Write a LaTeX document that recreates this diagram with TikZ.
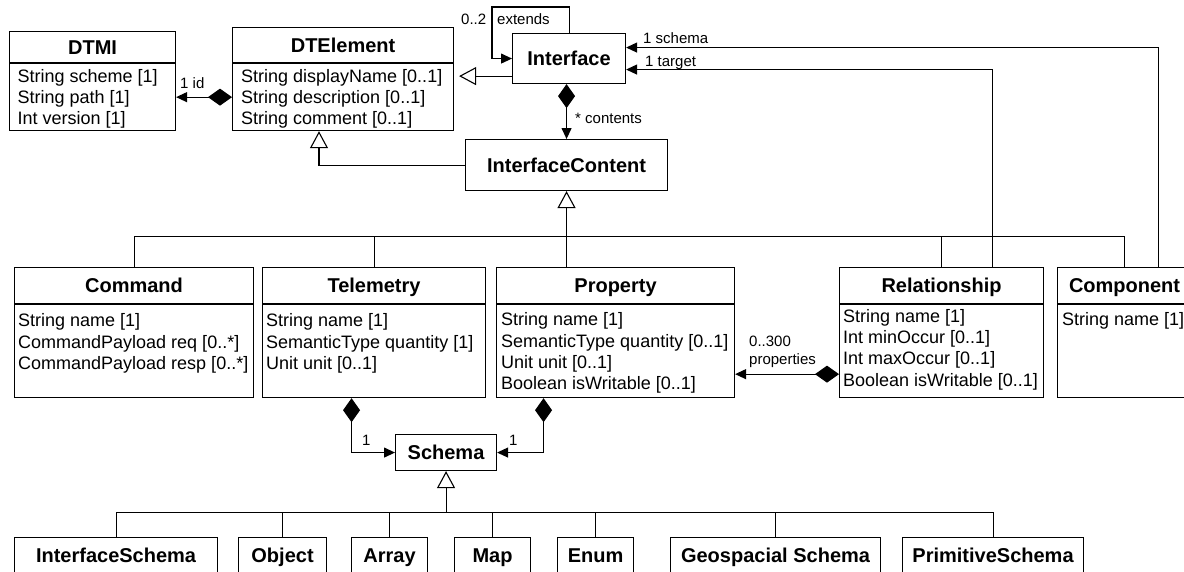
\documentclass[tikz,border=0pt]{standalone}
\usepackage{fontspec}
\setmainfont{Liberation Sans}
\usetikzlibrary{arrows.meta}
\tikzset{
  ln/.style={line width=1.1pt, line cap=rect},
  hdr/.style={draw, line width=1.1pt, inner sep=0pt, font=\fontsize{20}{24}\selectfont\bfseries, text height=14.3pt, text depth=0pt, anchor=north west},
  body/.style={draw, line width=1.1pt, inner sep=0pt, anchor=north west},
  attr/.style={inner sep=0pt, anchor=north west, align=left, font=\fontsize{18}{21.3}\selectfont},
  lbl/.style={inner sep=0pt, anchor=base west, font=\fontsize{15}{18}\selectfont},
  gen/.style={line width=1.1pt, -{Triangle[open,length=17pt,width=18pt,fill=white]}},
  comp/.style={line width=1.1pt, {Diamond[length=24pt,width=17pt]}-{Triangle[length=11pt,width=10pt]}},
  arr/.style={line width=1.1pt, -{Triangle[length=11pt,width=10pt]}},
}
\begin{document}
\begin{tikzpicture}[x=1pt,y=-1pt]
\useasboundingbox (0,0) rectangle (1184,571);
\clip (0,0) rectangle (1184,571);
\fill[white] (0,0) rectangle (1184,571);
% DTMI
\node[hdr, minimum width=166pt, minimum height=31pt] (dtmiH) at (9,31) {DTMI};
\node[body, minimum width=166pt, minimum height=67pt] (dtmiB) at (dtmiH.south west) {};
\node[attr] (dtmiT) at (17.5,69) {String scheme [1]\\String path [1]\\Int version [1]};
% DTElement
\node[hdr, minimum width=221pt, minimum height=35pt] (dteH) at (232,27) {DTElement};
\node[body, minimum width=221pt, minimum height=67pt] (dteB) at (dteH.south west) {};
\node[attr] (dteT) at (241,69) {String displayName [0..1]\\String description [0..1]\\String comment [0..1]};
% Interface
\node[hdr, minimum width=113pt, minimum height=50pt] (ifc) at (512,33) {Interface};
% InterfaceContent
\node[hdr, minimum width=202pt, minimum height=51pt] (ic) at (465,139) {InterfaceContent};
% Command
\node[hdr, minimum width=239pt, minimum height=36pt] (cmdH) at (14,267) {Command};
\node[body, minimum width=239pt, minimum height=93pt] (cmdB) at (cmdH.south west) {};
\node[attr] (cmdT) at (18,313.5) {String name [1]\\CommandPayload req [0..*]\\CommandPayload resp [0..*]};
% Telemetry
\node[hdr, minimum width=223pt, minimum height=36pt] (telH) at (262,267) {Telemetry};
\node[body, minimum width=223pt, minimum height=93pt] (telB) at (telH.south west) {};
\node[attr] (telT) at (266,313.5) {String name [1]\\SemanticType quantity [1]\\Unit unit [0..1]};
% Property
\node[hdr, minimum width=238pt, minimum height=36pt] (propH) at (496,267) {Property};
\node[body, minimum width=238pt, minimum height=93pt] (propB) at (propH.south west) {};
\node[attr] (propT) at (501,312.5) {String name [1]\\SemanticType quantity [0..1]\\Unit unit [0..1]\\Boolean isWritable [0..1]};
% Relationship
\node[hdr, minimum width=204pt, minimum height=36pt] (relH) at (839,267) {Relationship};
\node[body, minimum width=204pt, minimum height=93pt] (relB) at (relH.south west) {};
\node[attr] (relT) at (843,309) {String name [1]\\Int minOccur [0..1]\\Int maxOccur [0..1]\\Boolean isWritable [0..1]};
% Component
\node[hdr, minimum width=134pt, minimum height=36pt] (compH) at (1057,267) {Component};
\node[body, minimum width=134pt, minimum height=93pt] (compB) at (compH.south west) {};
\node[attr] (compT) at (1062,312.5) {String name [1]};
% Schema
\node[hdr, minimum width=101pt, minimum height=36pt] (schema) at (395,434) {Schema};
% bottom row
\node[hdr, minimum width=203pt, minimum height=36pt] (isH) at (14,537) {InterfaceSchema};
\node[hdr, minimum width=88pt, minimum height=36pt] (objH) at (238,537) {Object};
\node[hdr, minimum width=76pt, minimum height=36pt] (arrH) at (351,537) {Array};
\node[hdr, minimum width=76pt, minimum height=36pt] (mapH) at (454,537) {Map};
\node[hdr, minimum width=76pt, minimum height=36pt] (enumH) at (557,537) {Enum};
\node[hdr, minimum width=210pt, minimum height=36pt] (geoH) at (670,537) {Geospacial Schema};
\node[hdr, minimum width=181pt, minimum height=36pt] (primH) at (902,537) {PrimitiveSchema};

% DTElement -> DTMI
\draw[comp] (dteB.west) -- (dteB.west -| dtmiB.east);
\node[lbl] (lid) at (180,88) {1 id};
% Interface -> DTElement
\coordinate (g1) at ([yshift=8pt]ifc.south west);
\draw[gen, shorten >=5pt] (g1) -- (g1 -| dteB.east);
% extends loop
\draw[arr] (ifc.north) -- ++(0,-26) -| ([xshift=-20pt]ifc.west) -- (ifc.west);
\node[lbl] (l02) at (461,24) {0..2};
\node[lbl] (lext) at (497,24) {extends};
% schema / target
\coordinate (s1) at ([yshift=11pt]ifc.east);
\coordinate (s2) at ([yshift=-11pt]ifc.east);
\draw[arr] ([xshift=34pt]compH.north) |- (s1);
\draw[arr] ([xshift=51pt]relH.north) |- (s2);
\node[lbl] (lsch) at (643,43) {1 schema};
\node[lbl] (ltgt) at (645,66) {1 target};
% contents
\draw[comp] (ifc.south -| ic.north) -- (ic.north);
\node[lbl] (lcont) at (575,123) {* contents};
% InterfaceContent -> DTElement
\draw[gen] (ic.west) -| ([xshift=87pt]dteB.south west);
% tree 1
\path (ic.south) ++(0,45) coordinate (t1);
\draw[gen] (t1) -- (ic.south);
\draw[ln] (cmdH.north) |- (t1) -| (compH.north);
\draw[ln] (telH.north) -- (telH.north |- t1);
\draw[ln] (t1) -- (t1 |- propH.north);
\draw[ln] (relH.north) -- (relH.north |- t1);
% properties
\coordinate (rp) at ([yshift=-23pt]relB.west);
\draw[comp] (rp) -- (rp -| propB.east);
\node[lbl] (l300) at (749,346) {0..300};
\node[lbl] (lprops) at (749,364) {properties};
% schema compositions
\draw[comp] ([xshift=-22.5pt]telB.south) |- (schema.west);
\draw[comp] ([xshift=-72pt]propB.south) |- (schema.east);
\node[lbl] (l1a) at (362,445) {1};
\node[lbl] (l1b) at (509,445) {1};
% tree 2
\path (schema.south) ++(0,41) coordinate (t2);
\draw[gen] (t2) -- (schema.south);
\draw[ln] (isH.north) |- (t2) -| (primH.north);
\draw[ln] (objH.north) -- (objH.north |- t2);
\draw[ln] (arrH.north) -- (arrH.north |- t2);
\draw[ln] (mapH.north) -- (mapH.north |- t2);
\draw[ln] (enumH.north) -- (enumH.north |- t2);
\draw[ln] (geoH.north) -- (geoH.north |- t2);
\end{tikzpicture}
\end{document}
